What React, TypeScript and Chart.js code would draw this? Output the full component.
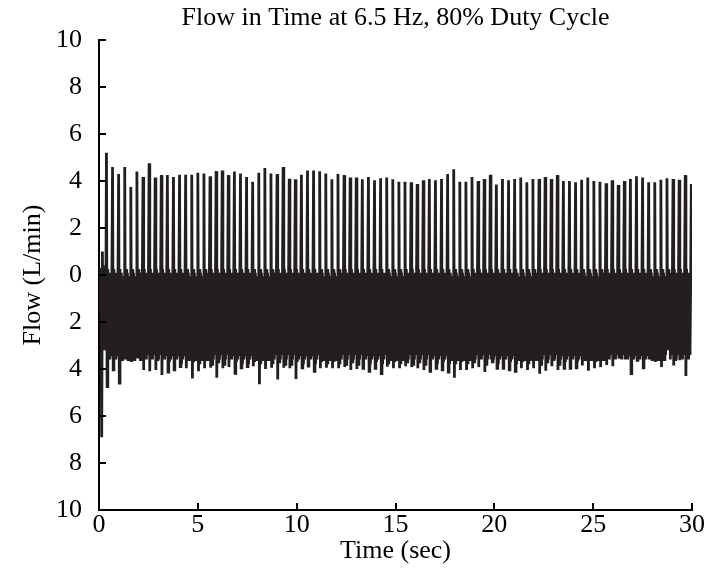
import { useEffect, useRef } from "react";
import { Chart, registerables } from "chart.js";

Chart.register(...registerables);

// ---- Text ----
const TITLE = "Flow in Time at 6.5 Hz, 80% Duty Cycle";
const X_LABEL = "Time (sec)";
const Y_LABEL = "Flow (L/min)";

// ---- Axes ----
const X_TICKS = [0, 5, 10, 15, 20, 25, 30];
const Y_TICKS = [-10, -8, -6, -4, -2, 0, 2, 4, 6, 8, 10];
const DURATION = 30; // seconds covered by the recording

// ---- Data ----
// samples before the first pulse
const startup = [0, -1.5, 0.3, -2.0, -6.9, 1.0, -2.2, 0.4, -3.2, 0.2, -2.5];

// top of every pulse (L/min)
const peaks = [
  5.2, 4.6, 4.3, 4.6, 3.75, 4.4, 4.17, 4.75, 4.15, 4.25,
  4.25, 4.17, 4.27, 4.27, 4.27, 4.35, 4.32, 4.2, 4.42, 4.45,
  4.25, 4.4, 4.32, 4.17, 3.97, 4.35, 4.55, 4.32, 4.3, 4.6,
  4.1, 4.07, 4.27, 4.45, 4.45, 4.42, 4.32, 4.07, 4.3, 4.25,
  4.15, 4.15, 4.07, 4.17, 4.03, 4.12, 4.15, 4.07,
  3.97, 3.97, 3.95, 3.87, 4.03, 4.08, 4.03, 4.08, 4.3, 4.5,
  3.97, 3.97, 4.17, 4.0, 4.08, 4.27, 3.85, 4.08, 4.03, 4.08,
  4.15, 3.95, 4.08, 4.08, 4.17, 4.08, 4.25, 4.0, 4.0, 3.95,
  4.05, 4.15, 4.0, 3.97, 3.9, 4.03, 3.83, 4.0, 4.08, 4.2,
  4.15, 3.95, 3.95, 4.05, 4.12, 4.08, 4.05, 4.25, 3.87,
];

// deepest dip after every pulse (L/min)
const troughs = [
  -4.75, -4.04, -4.6, -3.6, -3.7, -3.55, -4.04, -4.1, -4.04, -4.25,
  -4.13, -4.04, -3.9, -3.97, -4.4, -4.1, -3.97, -3.95, -4.37, -3.97,
  -3.92, -4.18, -3.95, -3.9, -3.88, -4.65, -4.0, -3.95, -4.45, -3.95,
  -3.97, -4.43, -3.95, -3.88, -4.1, -3.97, -3.95, -3.97, -3.97, -3.92,
  -4.04, -4.0, -3.97, -4.1, -3.97, -4.2, -3.9, -3.97,
  -3.97, -3.88, -3.92, -3.97, -4.04, -4.1, -3.97, -4.04, -4.13, -4.37,
  -4.04, -4.04, -3.97, -3.92, -4.13, -3.6, -3.97, -3.97, -4.04, -4.1,
  -3.97, -4.04, -3.97, -4.2, -4.07, -3.88, -4.04, -3.97, -3.97, -3.95,
  -3.85, -4.07, -3.97, -3.92, -3.83, -3.88, -3.55, -3.6, -4.2, -3.63,
  -3.95, -3.6, -3.7, -3.92, -3.2, -3.85, -3.63, -4.3,
];

// second, shallower dip inside every cycle (L/min)
const lows = [
  -3.2, -3.0, -3.4, -2.9, -3.3, -3.1, -3.5, -3.2, -3.6, -3.4, -3.7, -3.5,
  -3.8, -3.6, -3.7, -3.8, -3.6, -3.8, -3.7, -3.8, -3.6, -3.7, -3.8, -3.8,
  -3.7, -3.8, -3.6, -3.8, -3.7, -3.8, -3.8, -3.7, -3.8, -3.6, -3.8, -3.7,
  -3.8, -3.7, -3.8, -3.8, -3.7, -3.8, -3.6, -3.8, -3.7, -3.8, -3.8, -3.7,
  -3.8, -3.7, -3.8, -3.7, -3.8, -3.6, -3.8, -3.7, -3.8, -3.8, -3.7, -3.8,
  -3.7, -3.5, -3.8, -3.7, -3.8, -3.6, -3.7, -3.8, -3.7, -3.8, -3.6, -3.8,
  -3.7, -3.6, -3.8, -3.7, -3.6, -3.7, -3.5, -3.6, -3.7, -3.5, -3.3, -3.4,
  -3.5, -3.6, -3.4, -3.2, -3.5, -3.6, -3.0, -3.5, -3.0, -3.6, -3.5, -3.4,
];

// ripple inside one cycle after the two dips: alternating near-zero tops and inner dips (L/min)
const ripple = [0.25, 0.1, -3.6, -0.05, -3.4, -0.35];

// value at the very end of the recording
const endValue = 3.0;

function buildSeries() {
  const values: number[] = [...startup];
  for (let k = 0; k < peaks.length; k++) {
    values.push(peaks[k]);
    if (k < peaks.length - 1) {
      values.push(troughs[k], ripple[0], lows[k], ripple[1], ripple[2], ripple[3], ripple[4], ripple[5]);
    }
  }
  values.push(endValue);
  const dt = DURATION / (values.length - 1);
  return values.map((v, i) => ({ x: i * dt, y: v }));
}

const FONT = "'Liberation Serif', 'Times New Roman', serif";
const INK = "#231f20";

const inwardTicks = {
  id: "inwardTicks",
  afterDraw(chart: any) {
    const { ctx, chartArea, scales } = chart;
    ctx.save();
    ctx.strokeStyle = "#000";
    ctx.lineWidth = 2;
    Y_TICKS.forEach((v) => {
      const y = Math.round(scales.y.getPixelForValue(v));
      ctx.beginPath();
      ctx.moveTo(chartArea.left, y);
      ctx.lineTo(chartArea.left + 7, y);
      ctx.stroke();
    });
    X_TICKS.forEach((v) => {
      const x = Math.round(scales.x.getPixelForValue(v));
      ctx.beginPath();
      ctx.moveTo(x, chartArea.bottom);
      ctx.lineTo(x, chartArea.bottom - 7);
      ctx.stroke();
    });
    ctx.restore();
  },
};

export default function App() {
  const canvasRef = useRef<HTMLCanvasElement | null>(null);

  useEffect(() => {
    if (!canvasRef.current) return;
    const chart = new Chart(canvasRef.current, {
      type: "line",
      data: {
        datasets: [
          {
            data: buildSeries(),
            borderColor: INK,
            borderWidth: 2.8,
            pointRadius: 0,
            tension: 0,
            fill: false,
          },
        ],
      },
      options: {
        animation: false,
        responsive: false,
        layout: { padding: { left: 0, right: 0, top: 0, bottom: 0 } },
        plugins: {
          legend: { display: false },
          tooltip: { enabled: false },
          title: {
            display: true,
            text: TITLE,
            fullSize: false,
            color: "#000",
            font: { family: FONT, size: 26, weight: "normal" },
            padding: { top: 3, bottom: 5.8 },
          },
        },
        scales: {
          x: {
            type: "linear",
            min: 0,
            max: 30,
            offset: false,
            afterBuildTicks: (scale: any) => {
              scale.ticks = X_TICKS.map((v) => ({ value: v }));
            },
            afterFit: (scale: any) => {
              scale.height = 61;
              scale.paddingRight = 13;
              scale.paddingLeft = 0;
            },
            grid: { display: false, drawTicks: false },
            border: { display: true, color: "#000", width: 2 },
            ticks: {
              color: "#000",
              padding: 0,
              maxRotation: 0,
              autoSkip: false,
              font: { family: FONT, size: 26 },
            },
            title: {
              display: true,
              text: X_LABEL,
              color: "#000",
              font: { family: FONT, size: 26 },
              padding: { top: 0, bottom: 4 },
            },
          },
          y: {
            type: "linear",
            min: -10,
            max: 10,
            afterBuildTicks: (scale: any) => {
              scale.ticks = Y_TICKS.map((v) => ({ value: v }));
            },
            afterFit: (scale: any) => {
              scale.width = 99;
              scale.paddingTop = 0;
              scale.paddingBottom = 0;
            },
            grid: { display: false, drawTicks: false },
            border: { display: true, color: "#000", width: 2 },
            ticks: {
              color: "#000",
              padding: 17,
              autoSkip: false,
              font: { family: FONT, size: 26 },
              callback: (v: any) => String(Math.abs(Number(v))),
            },
            title: {
              display: true,
              text: Y_LABEL,
              color: "#000",
              font: { family: FONT, size: 26 },
              padding: { top: 18, bottom: 0 },
            },
          },
        },
      },
      plugins: [inwardTicks],
    });
    return () => chart.destroy();
  }, []);

  return (
    <div
      style={{
        position: "fixed",
        left: 0,
        top: 0,
        width: 705,
        height: 571,
        background: "#fff",
      }}
    >
      <canvas ref={canvasRef} width={705} height={571} />
    </div>
  );
}
